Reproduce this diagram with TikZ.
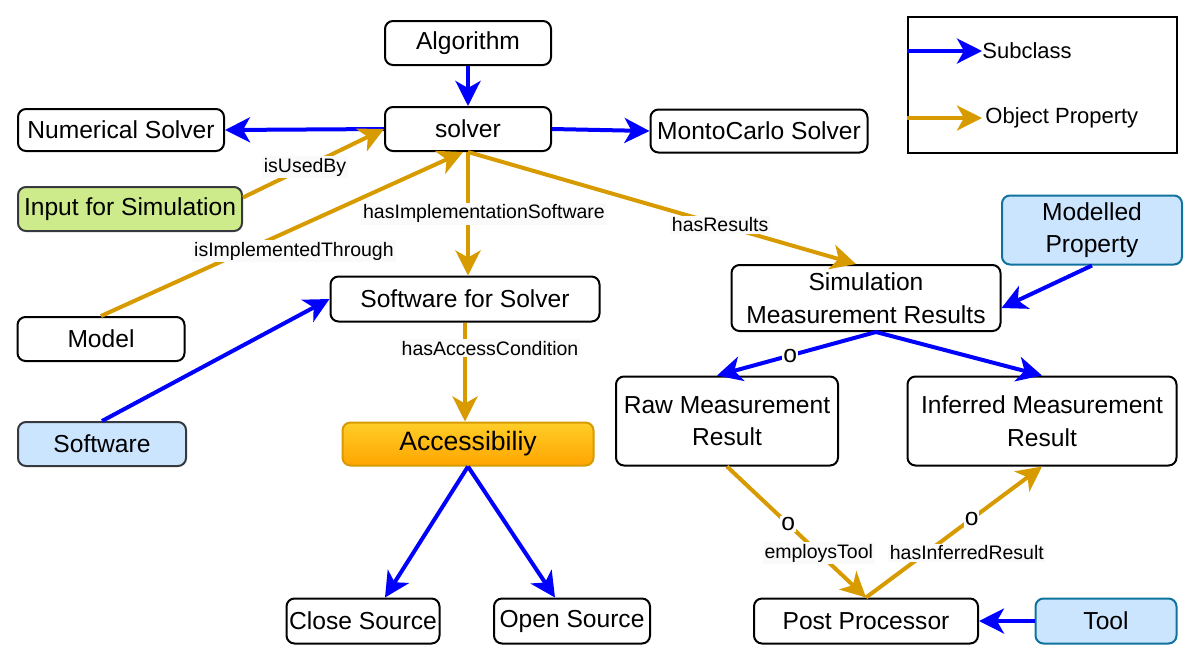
\documentclass[tikz,border=0pt]{standalone}
\usepackage{fontspec}
\setmainfont{Liberation Sans}
\usetikzlibrary{arrows.meta,calc}
\definecolor{subblue}{HTML}{0000FF}
\definecolor{propor}{HTML}{D79B00}
\definecolor{greenfill}{HTML}{CDEB8B}
\definecolor{darkstroke}{HTML}{36393D}
\definecolor{lbfill}{HTML}{CCE5FF}
\definecolor{lbstroke}{HTML}{10739E}
\definecolor{acctop}{HTML}{FFCD28}
\definecolor{accbot}{HTML}{FFA500}
\definecolor{lblbg}{HTML}{FAFAFA}
\tikzset{
  box/.style={draw=black, line width=1pt, rounded corners=4pt, fill=white, inner sep=0pt,
    font=\fontsize{12.3}{16.3}\selectfont, align=center},
  greenbox/.style={box, fill=greenfill, draw=darkstroke},
  bluebox/.style={box, fill=lbfill, draw=darkstroke},
  blueboxb/.style={box, fill=lbfill, draw=lbstroke},
  accbox/.style={box, draw=propor, top color=acctop, bottom color=accbot, font=\fontsize{13.3}{16}\selectfont},
  sub/.style={draw=subblue, line width=2pt, -{Stealth[length=12.5pt,width=12.5pt,inset=3.5pt]}},
  prop/.style={draw=propor, line width=2pt, -{Stealth[length=12.5pt,width=12.5pt,inset=3.5pt]}},
  lbl/.style={fill=lblbg, inner sep=1pt, text=black, font=\fontsize{9.75}{11}\selectfont},
  olbl/.style={fill=white, inner sep=0.5pt, text=black, font=\fontsize{12.3}{13}\selectfont},
  legtxt/.style={inner sep=0pt, anchor=west, font=\fontsize{11}{13}\selectfont},
}
\begin{document}
\begin{tikzpicture}[x=0.5pt,y=-0.5pt]
\useasboundingbox (0,0) rectangle (1200,661);
\fill[white] (0,0) rectangle (1200,661);

\node[box, minimum width=83pt, minimum height=22pt] (algo) at (468,43) {Algorithm};
\node[box, minimum width=83pt, minimum height=22pt] (solver) at (468,129) {solver};
\node[box, minimum width=103pt, minimum height=21pt] (num) at (121,130) {Numerical Solver};
\node[box, minimum width=108.5pt, minimum height=21.5pt] (monto) at (759,131) {MontoCarlo Solver};
\node[greenbox, minimum width=112pt, minimum height=22pt] (inp) at (130,209) {Input for Simulation};
\node[box, minimum width=83.5pt, minimum height=22pt] (model) at (101,339) {Model};
\node[bluebox, minimum width=84pt, minimum height=22pt] (sw) at (102,444) {Software};
\node[box, minimum width=134.5pt, minimum height=22.5pt] (sfs) at (465,299) {Software for Solver};
\node[accbox, minimum width=125.5pt, minimum height=21.5pt] (acc) at (468,444) {Accessibiliy};
\node[box, minimum width=76.5pt, minimum height=22.5pt] (close) at (363,621) {Close Source};
\node[box, minimum width=78pt, minimum height=22.5pt] (open) at (572,621) {Open Source};
\node[blueboxb, minimum width=90pt, minimum height=34.5pt] (mod) at (1092,230) {Modelled\\Property};
\node[box, minimum width=134.5pt, minimum height=33pt] (sim) at (866,298) {Simulation\\Measurement Results};
\node[box, minimum width=111pt, minimum height=44.5pt] (raw) at (727,421) {Raw Measurement\\Result};
\node[box, minimum width=134.5pt, minimum height=44.5pt] (inf) at (1042,421) {Inferred Measurement\\Result};
\node[box, minimum width=112pt, minimum height=22.5pt] (pp) at (866,621) {Post Processor};
\node[blueboxb, minimum width=70.5pt, minimum height=22.5pt] (tool) at (1106,621) {Tool};

% legend
\node[draw=black, line width=1pt, fill=white, minimum width=134.5pt, minimum height=68pt, inner sep=0pt] (legend) at (1042.5,85) {};
\node[legtxt] (subtxt) at (982,51) {Subclass};
\node[legtxt] (proptxt) at (985,118) {Object Property};
\draw[sub] (legend.west |- subtxt) -- (subtxt.west);
\draw[prop] (legend.west |- proptxt) -- ([xshift=-1.5pt]proptxt.west);

% subclass edges
\draw[sub] (algo) -- (solver);
\draw[sub] (solver.west) -- (num.east);
\draw[sub] (solver.east) -- (monto.west);
\draw[sub] (sw.north) -- (sfs.west);
\draw[sub] (acc.south) -- ([xshift=11pt]close.north);
\draw[sub] (acc.south) -- ([xshift=-8.5pt]open.north);
\draw[sub] (mod.south) -- ([yshift=-5pt]sim.east);
\draw[sub] ([xshift=5pt]sim.south) -- node[olbl, pos=0.54] {o} ([xshift=-5pt]raw.north);
\draw[sub] ([xshift=5pt]sim.south) -- (inf.north);
\draw[sub] (tool.west) -- (pp.east);

% object property edges
\draw[prop] ($(inp.north east)!0.25!(inp.south east)$) -- node[lbl, pos=0.44] {isUsedBy} (solver.west);
\draw[prop] (model.north) -- node[lbl, pos=0.533, yshift=-11.25pt] {isImplementedThrough} ([xshift=-2.5pt]solver.south);
\draw[prop] (solver.south) -- node[lbl, pos=0.5, xshift=8pt] {hasImplementationSoftware} (solver.south |- sfs.north);
\draw[prop] (solver.south) -- node[lbl, pos=0.65] {hasResults} ([xshift=-5pt]sim.north);
\draw[prop] (sfs.south) -- node[lbl, pos=0.26, xshift=12.5pt] {hasAccessCondition} (sfs.south |- acc.north);
\draw[prop] (raw.south) -- node[olbl, pos=0.44] {o} node[lbl, pos=0.66] {employsTool} (pp.north);
\draw[prop] (pp.north) -- node[olbl, pos=0.6] {o} node[lbl, pos=0.34, xshift=20.5pt] {hasInferredResult} (inf.south);
\end{tikzpicture}
\end{document}
